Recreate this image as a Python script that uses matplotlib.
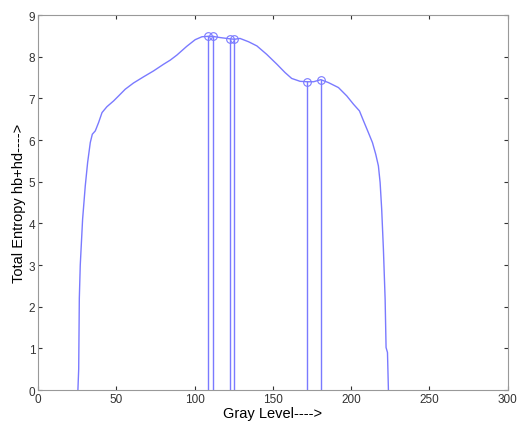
import matplotlib
matplotlib.use("Agg")
import matplotlib.pyplot as plt

# total entropy curve
gray = [25.5, 26.0, 26.4, 27.0, 28.5, 30.2, 31.7, 33.4, 34.7, 36.6, 38.7, 40.9,
        44.0, 48.3, 51.5, 55.7, 61.0, 67.5, 73.8, 80.2, 84.5, 88.7, 95.0, 100.4,
        104.7, 108.5, 111.5, 116.4, 122.7, 125.5, 129.0, 134.5, 139.8, 146.0,
        152.6, 157.8, 162.0, 167.4, 172.0, 176.0, 180.6, 185.5, 191.9, 197.2,
        201.5, 205.3, 207.9, 211.0, 213.6, 215.7, 217.4, 218.5, 219.5, 220.6,
        221.7, 222.3, 223.2, 223.8]
entropy = [0.0, 0.5, 2.2, 3.0, 4.1, 4.9, 5.46, 5.94, 6.14, 6.22, 6.42, 6.66,
           6.8, 6.94, 7.06, 7.22, 7.37, 7.52, 7.66, 7.82, 7.92, 8.04, 8.25, 8.41,
           8.48, 8.49, 8.49, 8.46, 8.43, 8.42, 8.44, 8.36, 8.26, 8.06,
           7.82, 7.62, 7.48, 7.41, 7.40, 7.40, 7.45, 7.38, 7.26, 7.06,
           6.86, 6.70, 6.46, 6.18, 5.94, 5.66, 5.38, 4.98, 4.34, 3.38,
           2.18, 1.02, 0.90, 0.0]

# selected thresholds (stems)
thr_x = [108.5, 111.5, 122.7, 125.5, 172.0, 180.6]
thr_y = [8.49, 8.49, 8.43, 8.42, 7.40, 7.45]

BLUE = "#7a7aff"

plt.rcParams["font.family"] = ["Liberation Sans", "DejaVu Sans"]
fig = plt.figure(figsize=(5.29, 4.27), dpi=100)
ax = fig.add_axes([0.0718, 0.0843, 0.888, 0.878])

ax.plot(gray, entropy, color=BLUE, lw=1.0)
for x, y in zip(thr_x, thr_y):
    ax.plot([x, x], [0, y], color=BLUE, lw=1.0)
ax.plot(thr_x, thr_y, "o", mfc="none", mec=BLUE, ms=5.5, mew=0.8)

ax.set_xlim(0, 300)
ax.set_ylim(0, 9)
ax.set_xticks(range(0, 301, 50))
ax.set_yticks(range(0, 10))
ax.tick_params(direction="in", length=3, labelsize=8.5, colors="#333333",
               top=True, right=True, pad=2)
for s in ax.spines.values():
    s.set_color("#999999")
    s.set_linewidth(0.8)
ax.set_xlabel("Gray Level---->", fontsize=10.5, labelpad=1)
ax.set_ylabel("Total Entropy hb+hd---->", fontsize=10.5, labelpad=2)

fig.savefig("out.png", dpi=100)
